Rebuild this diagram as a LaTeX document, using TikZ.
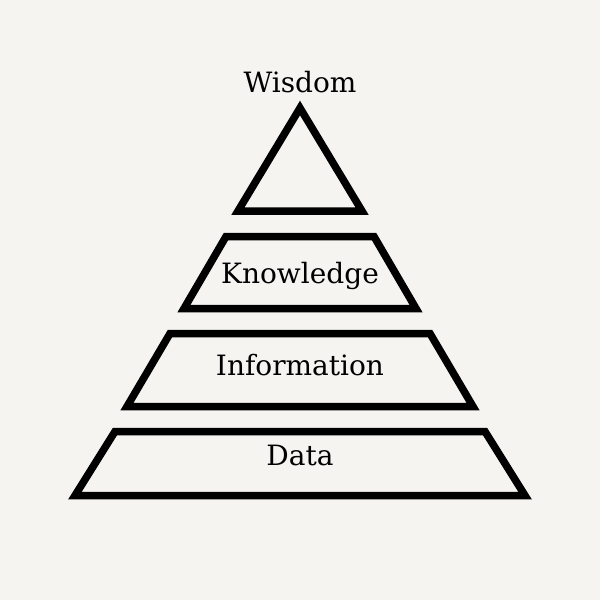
\documentclass[tikz,border=0pt]{standalone}
\usepackage{fontspec}
\setmainfont{DejaVu Serif}
\definecolor{bgc}{HTML}{F5F4F1}
\begin{document}
\begin{tikzpicture}[x=1pt,y=-1pt,
  tier/.style={draw=black,line width=7.5pt,line join=miter},
  lbl/.style={anchor=base,inner sep=0pt,font=\fontsize{28}{28}\selectfont}]
\fill[bgc] (0,0) rectangle (600,600);
\useasboundingbox (0,0) rectangle (600,600);
\draw[tier] (300,108) -- (362,211) -- (238,211) -- cycle;
\draw[tier] (226,236.5) -- (374,236.5) -- (416,308.5) -- (184,308.5) -- cycle;
\draw[tier] (170,333.5) -- (430,333.5) -- (473,406.5) -- (127,406.5) -- cycle;
\draw[tier] (115,431.5) -- (485,431.5) -- (525,495.5) -- (75,495.5) -- cycle;
\node[lbl] (wisdom) at (300,92) {Wisdom};
\node[lbl] (knowledge) at (300,283) {Knowledge};
\node[lbl] (information) at (300,375) {Information};
\node[lbl] (data) at (300,465) {Data};
\end{tikzpicture}
\end{document}
